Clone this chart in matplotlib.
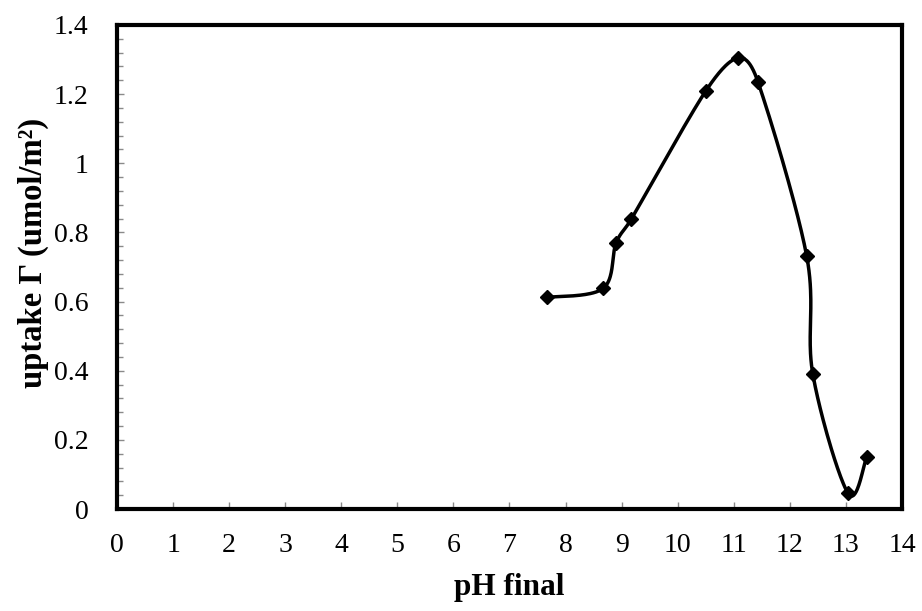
import numpy as np
import matplotlib
matplotlib.use('Agg')
import matplotlib.pyplot as plt
from matplotlib.ticker import MultipleLocator

plt.rcParams['font.family'] = ['Liberation Serif', 'DejaVu Serif']

# data
ph_final = [7.66, 8.67, 8.90, 9.17, 10.50, 11.08, 11.43, 12.30, 12.41, 13.04, 13.37]
uptake = [0.612, 0.638, 0.769, 0.838, 1.209, 1.305, 1.236, 0.732, 0.390, 0.045, 0.151]

x_ticks = list(range(0, 15))
y_ticks = [0, 0.2, 0.4, 0.6, 0.8, 1, 1.2, 1.4]
y_tick_labels = ['0', '0.2', '0.4', '0.6', '0.8', '1', '1.2', '1.4']


def excel_smooth(xs, ys, n=40):
    # bezier smoothing like the spreadsheet "smoothed line",
    # control arms limited to half of the segment length
    p = np.column_stack([xs, ys]).astype(float)
    p = np.vstack([p[0], p, p[-1]])
    out = []
    for i in range(1, len(p) - 2):
        p0, p1, p2, p3 = p[i - 1], p[i], p[i + 1], p[i + 2]
        d12 = np.hypot(*(p2 - p1))
        d02 = np.hypot(*(p2 - p0))
        d13 = np.hypot(*(p3 - p1))
        f1 = 1 / 6.0
        f2 = 1 / 6.0
        if d02 / 6.0 > d12 / 2.0:
            f1 = d12 / (2.0 * d02)
        if d13 / 6.0 > d12 / 2.0:
            f2 = d12 / (2.0 * d13)
        c1 = p1 + (p2 - p0) * f1
        c2 = p2 - (p3 - p1) * f2
        t = np.linspace(0, 1, n)[:, None]
        seg = ((1 - t) ** 3) * p1 + 3 * ((1 - t) ** 2) * t * c1 + 3 * (1 - t) * t ** 2 * c2 + t ** 3 * p2
        out.append(seg if i == 1 else seg[1:])
    out = np.vstack(out)
    return out[:, 0], out[:, 1]


fig = plt.figure(figsize=(9.22, 6.11), dpi=100)
ax = fig.add_axes([0.1269, 0.1669, 0.8514, 0.7922])

# smooth in pixel-like units so the curve shape matches the drawn geometry
sx = 785.0 / 14.0
sy = 484.0 / 1.4
cx, cy = excel_smooth(np.array(ph_final) * sx, np.array(uptake) * sy)
ax.plot(cx / sx, cy / sy, color='black', linewidth=2.5, solid_capstyle='round')
ax.plot(ph_final, uptake, linestyle='none', marker='D', markersize=7.5, color='black')

ax.set_xlim(0, 14)
ax.set_ylim(0, 1.4)
ax.set_xticks(x_ticks)
ax.set_yticks(y_ticks)
ax.set_yticklabels(y_tick_labels)
ax.yaxis.set_minor_locator(MultipleLocator(0.04))

ax.tick_params(axis='both', which='major', direction='in', length=5, width=1,
               color='#8a8a8a', labelsize=20)
ax.tick_params(axis='x', which='major', pad=17)
ax.tick_params(axis='y', which='major', pad=20.5)
ax.tick_params(axis='y', which='minor', direction='in', length=4, width=1, color='#8a8a8a')

for s in ax.spines.values():
    s.set_linewidth(3)
    s.set_color('black')

ax.set_xlabel('pH final', fontsize=22.5, fontweight='bold')
ax.set_ylabel('uptake Γ (umol/m²)', fontsize=23.5, fontweight='bold')
ax.yaxis.set_label_coords(-0.087, 0.53)
ax.xaxis.set_label_coords(0.5, -0.132)

fig.savefig('out.png', dpi=100)
